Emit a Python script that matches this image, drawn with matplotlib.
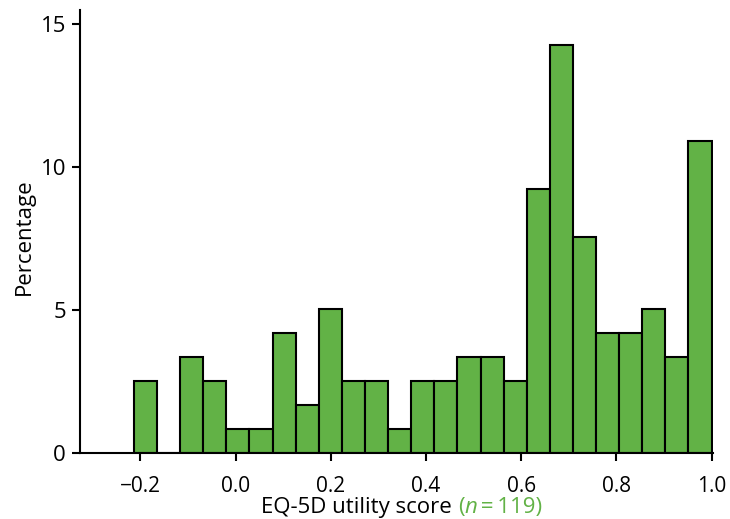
import matplotlib
matplotlib.use("Agg")
import matplotlib.pyplot as plt
import numpy as np

# Histogram of EQ-5D utility scores (25 equal-width bins between min and max score)
score_min = -0.2137
score_max = 1.0
n_bins = 25
counts = [3, 0, 4, 3, 1, 1, 5, 2, 6, 3, 3, 1, 3, 3, 4, 4, 3, 11, 17, 9, 5, 5, 6, 4, 13]
n_total = 119

x_ticks = [-0.2, 0.0, 0.2, 0.4, 0.6, 0.8, 1.0]
y_ticks = [0, 5, 10, 15]

bar_color = "#62B246"
label_green = "#62B246"

plt.rcParams["font.family"] = ["Open Sans", "DejaVu Sans"]

W, H = 730, 519
edges = np.linspace(score_min, score_max, n_bins + 1)
widths = np.diff(edges)
percent = np.array(counts) / n_total * 100

fig = plt.figure(figsize=(W / 100, H / 100), dpi=100)
ax = fig.add_axes([80 / W, (H - 453.3) / H, 633 / W, 443.3 / H])

ax.bar(edges[:-1], percent, width=widths, align="edge",
       color=bar_color, edgecolor="black", linewidth=1.5, zorder=2)

ax.set_xlim(-0.327, 1.003)
ax.set_ylim(0, 15.5)
ax.set_xticks(x_ticks)
ax.set_xticklabels(["\u22120.2" if t < 0 else f"{t:.1f}" for t in x_ticks])
ax.set_yticks(y_ticks)

for side in ("top", "right"):
    ax.spines[side].set_visible(False)
for side in ("left", "bottom"):
    ax.spines[side].set_linewidth(1.5)

ax.tick_params(axis="both", direction="out", length=6, width=1.5, colors="black")
ax.tick_params(axis="x", labelsize=15, pad=10)
ax.tick_params(axis="y", labelsize=16, pad=4)

# y axis title
fig.text(24 / W, (H - 237) / H, "Percentage", rotation=90, fontsize=16,
         ha="center", va="center")

# x axis title with a coloured sample-size note, laid out piece by piece
fs = 16
baseline = (H - 513) / H
parts = [("EQ-5D utility score ", "black", "normal"),
         ("(", label_green, "normal"),
         ("n", label_green, "italic"),
         ("\u2009=\u2009119)", label_green, "normal")]
renderer = fig.canvas.get_renderer()
cur = 0.0
pieces = []
for text, col, style in parts:
    t = fig.text(cur / W, baseline, text, fontsize=fs, color=col,
                 style=style, va="baseline", ha="left")
    fig.canvas.draw()
    ext = t.get_window_extent(renderer)
    pieces.append(t)
    cur = ext.x1
total = cur
shift = 402 - total / 2
for t in pieces:
    x, y = t.get_position()
    t.set_position((x + shift / W, y))

fig.savefig("out.png", dpi=100)
